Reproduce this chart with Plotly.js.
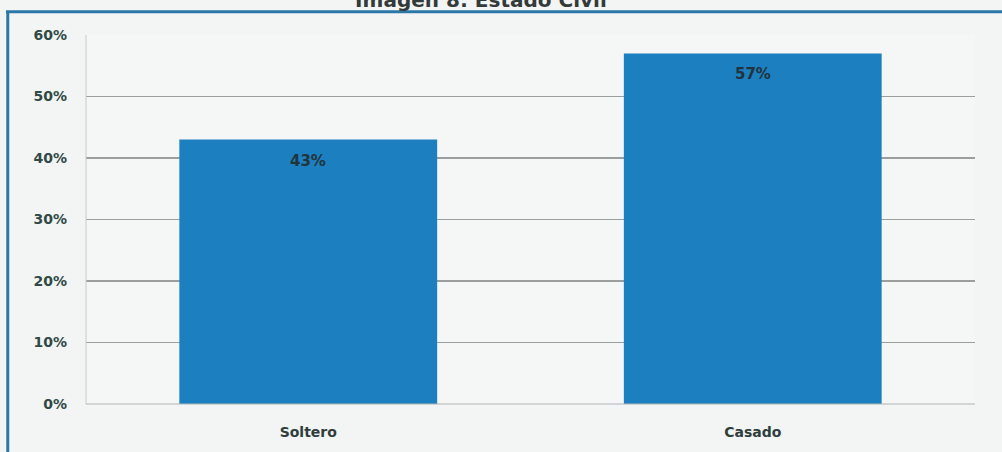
<!DOCTYPE html>
<html>
<head>
<meta charset="utf-8">
<script src="https://cdn.plot.ly/plotly-3.0.1.min.js"></script>
<style>
  html, body { margin: 0; padding: 0; background: #f3f4f4; }
  #chart { width: 1002px; height: 452px; }
</style>
</head>
<body>
<div id="chart"></div>
<script>
const categories = ['Soltero', 'Casado'];
const values = [43, 57];
const labels = ['43%', '57%'];
const yTickVals = [0, 10, 20, 30, 40, 50, 60];
const yTickText = ['0%', '10%', '20%', '30%', '40%', '50%', '60%'];
const chartTitle = 'Imagen 8: Estado Civil';

const trace = {
  type: 'bar',
  x: categories,
  y: values,
  marker: { color: '#1c80c0', line: { width: 0 } },
  hoverinfo: 'skip'
};

const annotations = categories.map((c, i) => ({
  x: c, y: values[i], xref: 'x', yref: 'y',
  text: labels[i], showarrow: false,
  yanchor: 'top', yshift: -10,
  font: { family: 'DejaVu Sans', size: 15, color: '#22333c', weight: 'bold' }
}));

const layout = {
  width: 1002, height: 452,
  paper_bgcolor: '#f3f4f4',
  plot_bgcolor: '#f5f6f6',
  margin: { l: 86, r: 27, t: 35, b: 48 },
  title: {
    text: '<b>' + chartTitle + '</b>',
    x: 0.48, xanchor: 'center',
    y: 1, yref: 'container', yanchor: 'middle',
    font: { family: 'DejaVu Sans', size: 20, color: '#333a3a' }
  },
  bargap: 0.42,
  showlegend: false,
  xaxis: {
    type: 'category',
    showgrid: false, zeroline: false, showline: false,
    ticks: '', ticklabelstandoff: 18,
    tickfont: { family: 'DejaVu Sans', size: 14, color: '#2f3d3c', weight: 'bold' }
  },
  yaxis: {
    range: [0, 60], tickmode: 'array', tickvals: yTickVals, ticktext: yTickText,
    showgrid: true, gridcolor: '#9a9e9e', gridwidth: 1.3,
    zeroline: false, showline: false,
    ticks: '', ticklabelstandoff: 18,
    tickfont: { family: 'DejaVu Sans', size: 14, color: '#2f4a44', weight: 'bold' }
  },
  annotations: annotations,
  shapes: [
    { type: 'line', xref: 'paper', yref: 'paper', x0: -0.09, x1: 1.04, y0: 1.063, y1: 1.063,
      line: { color: '#2b78a8', width: 3 } },
    { type: 'line', xref: 'paper', yref: 'paper', x0: -0.088, x1: -0.088, y0: 1.063, y1: -0.2,
      line: { color: '#2b78a8', width: 3 } },
    { type: 'line', xref: 'paper', yref: 'paper', x0: 0, x1: 0, y0: 0, y1: 1,
      line: { color: '#c8cccc', width: 1 } },
    { type: 'line', xref: 'paper', yref: 'paper', x0: 0, x1: 1, y0: 0, y1: 0,
      line: { color: '#b0b4b4', width: 1 } }
  ]
};

Plotly.newPlot('chart', [trace], layout, { displayModeBar: false, staticPlot: true });
</script>
</body>
</html>
